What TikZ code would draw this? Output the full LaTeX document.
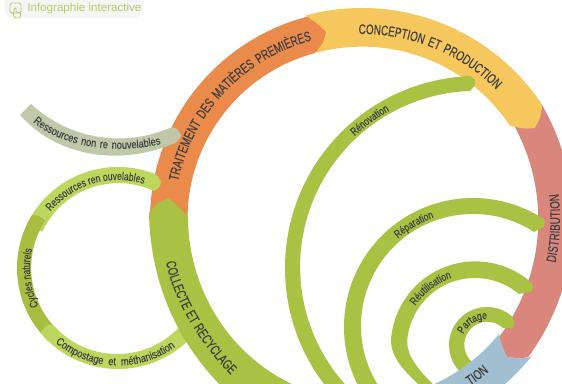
\documentclass[tikz,border=0pt]{standalone}
\usepackage{fontspec}
\setmainfont{Liberation Sans}
\newfontfamily\narrowfont[FakeStretch=0.71,FakeBold=0.1]{Liberation Sans}
\newfontfamily\slimfont[FakeStretch=0.76,FakeBold=0.1]{Liberation Sans}
\newfontfamily\widefont[FakeStretch=0.83,FakeBold=0.1]{Liberation Sans}
\usetikzlibrary{decorations.text}
\definecolor{mineral}{HTML}{EA8A4B}
\definecolor{sunny}{HTML}{F6C75D}
\definecolor{salmon}{HTML}{D9877D}
\definecolor{steel}{HTML}{A2BFD2}
\definecolor{leaf}{HTML}{AAC243}
\definecolor{lightleaf}{HTML}{BDD75E}
\definecolor{darkleaf}{HTML}{A9BE40}
\definecolor{stone}{HTML}{C0C8A9}
\definecolor{inktext}{HTML}{404040}
\definecolor{headbg}{HTML}{F5F5F3}
\definecolor{headtext}{HTML}{B5CC6B}
\newcommand{\biglab}{\narrowfont\fontsize{7.9}{9}\selectfont\color{inktext}}
\newcommand{\smalllab}{\slimfont\fontsize{6.4}{7}\selectfont\color{inktext}}
\newcommand{\longlab}{\widefont\fontsize{6.4}{7}\selectfont\color{inktext}}
\tikzset{
    biglabel/.style={decorate,decoration={text along path,text align={fit to path stretching spaces},text={|\biglab|#1}}},
    smalllabel/.style={decorate,decoration={text along path,text align={fit to path stretching spaces},text={|\longlab|#1}}},
    oneword/.style={decorate,decoration={text along path,text align=center,text={|\smalllab|#1}}},
    bigword/.style={decorate,decoration={text along path,text align=center,text={|\biglab|#1}}},
    titletext/.style={font=\fontsize{6.6}{8}\selectfont,text=headtext,inner sep=0pt},
}
\begin{document}
\begin{tikzpicture}[x=0.02cm,y=0.02cm]
    \clip (0,0) rectangle (562,384);
    % title
    \fill[headbg,rounded corners=5] (5,395) rectangle (143,366);
    \draw[headtext,line width=0.5pt,rounded corners=1] (10,381) rectangle (21,371);
    \draw[headtext,line width=0.5pt,rounded corners=0.5] (14,376)--(16,376)--(16,372)--(21,371)--(20,366)--(15,366)--(13,370)--(14,372)--cycle;
    \node[titletext,anchor=west] (title) at (27,375) {Infographie interactive};
    % main ring
    \fill[salmon] (542,279) arc (30:-36:231) .. controls (522,25) .. (507,27) .. controls (502,37) .. (499,47) arc (-37:31:195) -- cycle;
    \fill[sunny] ([shift={(362,160)}]105:216) arc (105:33.5:216) .. controls (541,268) .. (535,256) .. controls (525,255) .. (510,258) arc (33.5:105:177) -- cycle;
    \fill[mineral] ([shift={(360,164)}]182:210) arc (182:104.6:210) .. controls (318,360) .. (326,352) .. controls (324,342) .. (315,331) arc (105:182:172) -- cycle;
    % inner arcs
    \fill[leaf] ([shift={(477,116)}]225:192) arc (225:94:192) .. controls (470,309) .. (475,304) .. controls (475,298) .. (470,293) arc (92:225:176) -- cycle;
    \fill[leaf] ([shift={(473,57)}]215:129) arc (215:58:129) .. controls (544,166) .. (545,162) -- (544,157) .. controls (540,155) .. (534,152) arc (57:215:112) -- cycle;
    \fill[leaf] (421,-3) .. controls (403,14) and (391,27) .. (391,44) arc (176:50:84.5) .. controls (532,101) .. (533,97) -- (532,93) .. controls (529,92) .. (525,91) -- ([shift={(475,38)}]50:68) arc (50:176:68) .. controls (407,28) and (418,14) .. (436,-3) -- cycle;
    \fill[leaf] ([shift={(487,39)}]240:38) arc (240:49:38) .. controls (513,67) .. (514,63) -- (514,57) .. controls (510,56) .. (503,56) arc (47:240:23) -- cycle;
    % blue part over the arcs
    \fill[steel] (532,28) .. controls (522,25) .. (507,27) .. controls (502,37) .. (499,50) arc (-39:-80:178) -- ([shift={(360,164)}]-80:219) arc (-80:-38:219) -- cycle;
    % side loop
    \fill[lightleaf] ([shift={(118,116)}]155:101) arc (155:73:101) .. controls (157,210) .. (161,202) .. controls (160,197) .. (154,193) arc (65:155:84) -- cycle;
    \fill[darkleaf] ([shift={(118,116)}]148.5:101) .. controls (36,169) and (40,169) .. (45,163) arc (147:228:86) -- ([shift={(118,116)}]228:101) arc (228:148.5:101) -- cycle;
    \fill[lightleaf] ([shift={(118,116)}]220:101) .. controls (46,60) and (50,61) .. (55,57) arc (223:320:85) -- ([shift={(118,116)}]320:101) arc (320:220:101) -- cycle;
    \fill[stone] (31,280) .. controls (70,244) and (125,236) .. (172,257) .. controls (178,255) .. (181,249) .. controls (180,245) .. (175,241) .. controls (125,219) and (60,224) .. (20,269) -- cycle;
    \fill[leaf] (149,171) .. controls (157,181) .. (168,186) .. controls (176,180) .. (188,167) .. controls (188,100) and (225,30) .. (296,-2) -- (222,-3) .. controls (165,55) and (150,120) .. (149,171) -- cycle;
    % labels
    \path[biglabel={TRAITEMENT DES MATIÈRES PREMIÈRES}] ([shift={(360,164)}]168:186) arc (168:105:186);
    \path[biglabel={CONCEPTION ET PRODUCTION}] ([shift={(362,160)}]91:190) arc (91:45:190);
    \path[bigword={DISTRIBUTION}] ([shift={(343,165)}]-16:217) arc (-16:11:217);
    \path[biglabel={COLLECTE ET RECYCLAGE}] (166,122) .. controls (172,90) and (195,45) .. (231,9);
    \path[bigword={TION}] ([shift={(360,164)}]-60:199) arc (-60:-46:199);
    \path[smalllabel={Ressources non re nouvelables}] (33,262) .. controls (65,235) and (120,230) .. (161,240);
    \path[oneword={Ressources ren ouvelables}] ([shift={(118,116)}]150:88) arc (150:63:88);
    \path[oneword={Cycles naturels}] ([shift={(118,116)}]215:88) arc (215:158:88);
    \path[smalllabel={Compostage et méthanisation}] ([shift={(118,116)}]230:97.5) arc (230:306:97.5);
    \path[oneword={Rénovation}] ([shift={(477,116)}]140:180) arc (140:112:180);
    \path[oneword={Réparation}] ([shift={(473,57)}]140:116) arc (140:100:116);
    \path[oneword={Réutilisation}] ([shift={(475,38)}]165:72) arc (165:90:72);
    \path[oneword={Partage}] ([shift={(487,39)}]185:26) arc (185:60:26);
\end{tikzpicture}
\end{document}
